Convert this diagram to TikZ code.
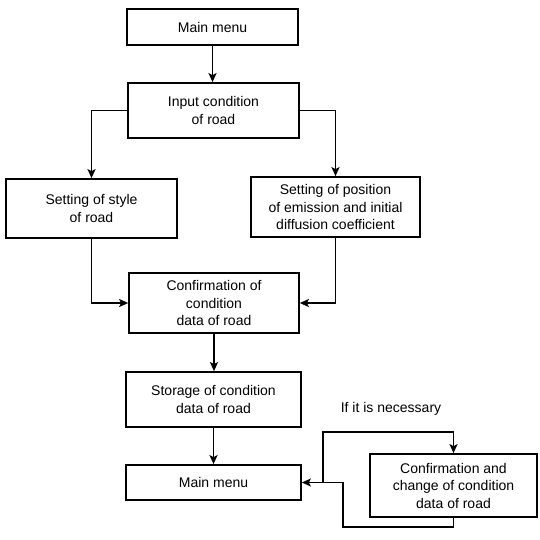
\documentclass[tikz,border=0pt]{standalone}
\usepackage{fontspec}
\setmainfont{Liberation Sans}
\usetikzlibrary{arrows.meta}
\begin{document}
\begin{tikzpicture}[x=1pt,y=-1pt,
  box/.style={draw,line width=1.7pt,minimum width=#1,inner sep=0pt,align=center,
    font=\fontsize{14}{17.5}\selectfont},
  box/.default=171pt,
  conn/.style={line width=1.5pt},
  arr/.style={conn,-{Stealth[length=9pt,width=8pt,inset=2pt]}}]
\useasboundingbox (0,0) rectangle (539,540);
\node[box=171pt,minimum height=36pt] (m1) at (212.5,27) {Main menu};
\node[box=171pt,minimum height=55pt] (inp) at (213.5,110.5) {Input condition\\of road};
\node[box=171pt,minimum height=59pt] (sty) at (91.5,208.5) {Setting of style\\of road};
\node[box=169pt,minimum height=60pt] (pos) at (335.5,207) {Setting of position\\of emission and initial\\diffusion coefficient};
\node[box=170pt,minimum height=60pt] (conf) at (214,303) {Confirmation of\\condition\\data of road};
\node[box=175pt,minimum height=55pt] (sto) at (213.5,399.5) {Storage of condition\\data of road};
\node[box=175pt,minimum height=35pt] (m2) at (213.5,482.5) {Main menu};
\node[box=167pt,minimum height=63pt] (cc) at (453.5,485.5) {Confirmation and\\change of condition\\data of road};
\node[font=\fontsize{14}{17.5}\selectfont] (lbl) at (391,409) {If it is necessary};
\draw[arr] (m1.south) -- (m1.south |- inp.north);
\draw[arr] (inp.west) -| (sty.north);
\draw[arr] (inp.east) -| (pos.north);
\draw[arr] (sty.south) |- (conf.west);
\draw[arr] (pos.south) |- (conf.east);
\draw[arr] (conf.south) -- (conf.south |- sto.north);
\draw[arr] (sto.south) -- (sto.south |- m2.north);
\coordinate (lb) at (343,527);
\coordinate (j) at (323,482.5);
\coordinate (tp) at (323,432);
\draw[arr] (cc.south) |- (lb) |- (m2.east);
\draw[arr] (j) -- (tp) -| (cc.north);
\end{tikzpicture}
\end{document}
